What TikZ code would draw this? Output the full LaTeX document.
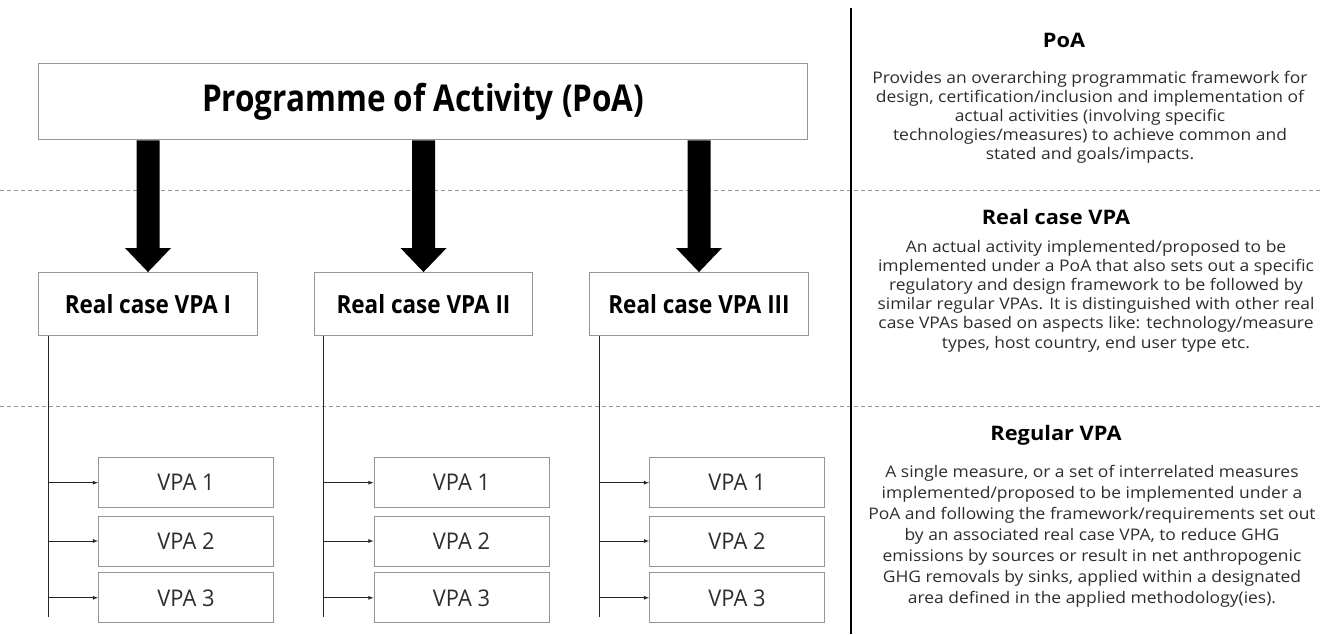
\documentclass[tikz,border=0pt]{standalone}
\usepackage{fontspec}
\setmainfont{Open Sans}
\newfontfamily\titlefont[FakeStretch=0.85]{Open Sans}
\newfontfamily\rcfont[FakeStretch=0.9]{Open Sans}
\newfontfamily\vpafont[FakeStretch=0.95]{Open Sans}
\newfontfamily\widefont[FakeStretch=1.09]{Open Sans}
\usetikzlibrary{positioning}

\definecolor{boxgray}{RGB}{150,150,150}
\definecolor{textgray}{RGB}{45,45,45}

\tikzset{
    box/.style={draw=boxgray, line width=0.9pt, fill=white, inner sep=0pt},
    poabox/.style={box, minimum width=769pt, minimum height=76pt,
        font=\titlefont\bfseries\fontsize{37}{40}\selectfont},
    rcbox/.style={box, minimum width=218.5pt, minimum height=63pt,
        font=\rcfont\bfseries\fontsize{25}{28}\selectfont},
    vpabox/.style={box, minimum width=175pt, minimum height=50pt,
        text=textgray, font=\vpafont\fontsize{23}{26}\selectfont},
    head/.style={font=\widefont\bfseries\fontsize{20}{24}\selectfont},
    desc/.style={align=center, text=textgray, inner sep=0pt},
    sep/.style={draw=boxgray, line width=0.9pt, dash pattern=on 4pt off 3pt},
}

\begin{document}
\begin{tikzpicture}[x=1pt,y=1pt]
    \useasboundingbox (0,0) rectangle (1329,-634);

    \draw[sep] (0,-190) -- (1320,-190);
    \draw[sep] (0,-406) -- (1320,-406);
    \draw[line width=2.5pt] (851,-8) -- (851,-634);

    \node[poabox] (poa) at (423.2,-101.9) {Programme of Activity (PoA)};

    \foreach \i/\x/\r in {1/148/I,2/423.5/II,3/699/III}{
        \node[rcbox] (rc\i) at (\x,-304) {Real case VPA \r};
        \coordinate (a\i) at (poa.south -| rc\i.north);
        \fill ([xshift=-11.5pt]a\i) -- ([xshift=-11.5pt,yshift=24pt]rc\i.north)
            -- ([xshift=-23pt,yshift=24pt]rc\i.north) -- (rc\i.north)
            -- ([xshift=23pt,yshift=24pt]rc\i.north)
            -- ([xshift=11.5pt,yshift=24pt]rc\i.north) -- ([xshift=11.5pt]a\i) -- cycle;
    }

    \foreach \i/\x in {1/186,2/461.5,3/737}{
        \foreach \j/\y in {1/-482.7,2/-541,3/-597.8}{
            \node[vpabox] (v\i\j) at (\x,\y) {VPA \j};
        }
    }

    \foreach \i in {1,2,3}{
        \coordinate (top\i) at ([xshift=10pt]rc\i.south west);
        \coordinate (end\i) at (top\i |- 0,-617);
        \draw[line width=0.9pt, black!85] (top\i) -- (end\i);
        \foreach \j in {1,2,3}{
            \draw[line width=0.8pt, black!85, -latex] (top\i |- v\i\j.west) -- (v\i\j.west);
        }
    }

    \node[head] (hpoa) at (1064,-40) {PoA};
    \node[desc, font=\widefont\fontsize{16}{19}\selectfont] (dpoa) at (1090,-117)
        {Provides an overarching programmatic framework for\\
         design, certification/inclusion and implementation of\\
         actual activities (involving specific\\
         technologies/measures) to achieve common and\\
         stated and goals/impacts.};

    \node[head] (hrc) at (1056,-217) {Real case VPA};
    \node[desc, font=\widefont\fontsize{16}{19.2}\selectfont] (drc) at (1096,-296)
        {An actual activity implemented/proposed to be\\
         implemented under a PoA that also sets out a specific\\
         regulatory and design framework to be followed by\\
         similar regular VPAs. It is distinguished with other real\\
         case VPAs based on aspects like: technology/measure\\
         types, host country, end user type etc.};

    \node[head] (hreg) at (1056,-435) {Regular VPA};
    \node[desc, font=\widefont\fontsize{16}{21}\selectfont] (dreg) at (1092,-536)
        {A single measure, or a set of interrelated measures\\
         implemented/proposed to be implemented under a\\
         PoA and following the framework/requirements set out\\
         by an associated real case VPA, to reduce GHG\\
         emissions by sources or result in net anthropogenic\\
         GHG removals by sinks, applied within a designated\\
         area defined in the applied methodology(ies).};

\end{tikzpicture}
\end{document}
